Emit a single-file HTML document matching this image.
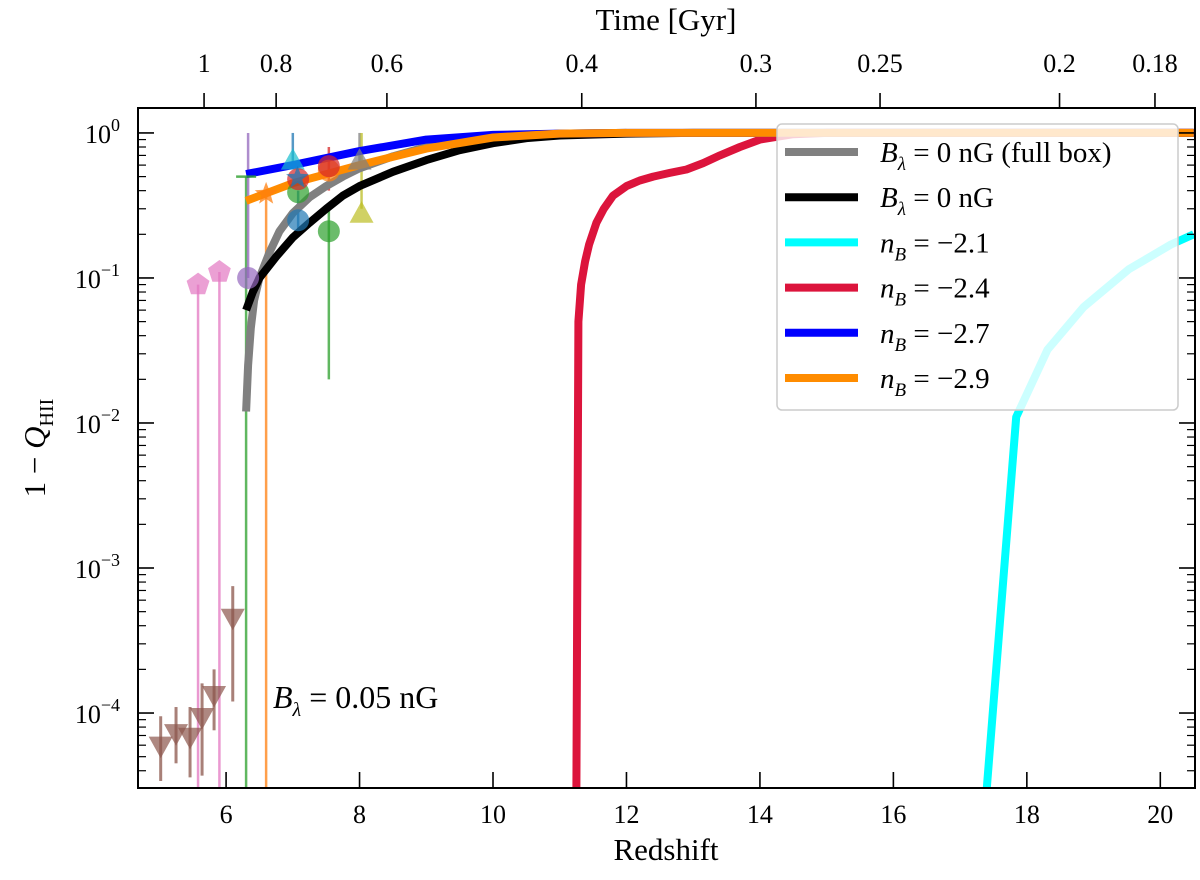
<!DOCTYPE html>
<html><head><meta charset="utf-8"><style>
html,body{margin:0;padding:0;background:#fff;width:1200px;height:880px;overflow:hidden}
svg{display:block;font-family:"Liberation Serif","DejaVu Serif",serif}
</style></head><body>
<svg id="chart" width="1200" height="880" viewBox="0 0 1200 880" xmlns="http://www.w3.org/2000/svg" overflow="hidden">
<g id="marks"></g>
<g id="axes"></g>
<g id="legend"></g>
</svg>
<script>
const xTicks=[6,8,10,12,14,16,18,20];
const yTicks=[0,-1,-2,-3,-4];
const timeLabels=["1","0.8","0.6","0.4","0.3","0.25","0.2","0.18"];
const timeTickZ=[5.67,6.75,8.41,11.33,13.94,15.80,18.49,19.92];

const zBlue=[6.3,7,8,9,10,11,12,20.5];
const vBlue=[0.52,0.6,0.75,0.9,0.97,0.99,1,1];
const zOrange=[6.3,7,8,9,10,11,12,20.5];
const vOrange=[0.34,0.45,0.6,0.78,0.93,0.99,1,1];
const zBlack=[6.3,6.4,6.5,6.75,7,7.25,7.5,7.75,8,8.5,9,9.5,10,10.5,11,12,13,20.5];
const vBlack=[0.06,0.08,0.1,0.14,0.19,0.24,0.3,0.37,0.43,0.54,0.65,0.76,0.85,0.92,0.96,0.99,1,1];
const zGray=[6.3,6.33,6.37,6.42,6.5,6.65,6.8,7,7.25,7.5,7.75,8,8.5,9,10,11,12];
const vGray=[0.012,0.025,0.045,0.07,0.1,0.15,0.21,0.28,0.36,0.43,0.5,0.57,0.69,0.8,0.93,0.99,1];
const zRed=[11.25,11.28,11.32,11.38,11.44,11.55,11.66,11.8,12,12.2,12.4,12.65,12.9,13.15,13.4,13.7,14,14.5,15,20.5];
const vRed=[3e-5,0.05,0.09,0.13,0.17,0.24,0.3,0.37,0.43,0.47,0.5,0.53,0.56,0.62,0.7,0.8,0.9,0.98,1,1];
const zCyan=[17.4,17.84,18.31,18.85,19.53,20.16,20.5];
const vCyan=[3e-5,0.011,0.032,0.063,0.115,0.17,0.2];

const zBrown=[5.02,5.25,5.46,5.64,5.82,6.1];
const vBrown=[5.9e-5,7.2e-5,6.8e-5,9.3e-5,1.32e-4,4.5e-4];
const loBrown=[3.4e-5,4.5e-5,3.6e-5,3.7e-5,7.6e-5,1.2e-4];
const hiBrown=[9.5e-5,1.1e-4,1.1e-4,1.6e-4,2e-4,7.5e-4];

const xmin=4.68,xmax=20.52,ymin=-4.517,ymax=0.172;
const VMIN=Math.pow(10,ymin);
const L=138,R=1195,T=108,B=788;
const X=z=>L+(z-xmin)/(xmax-xmin)*(R-L);
const Y=v=>Math.min(B,B-(Math.log10(v)-ymin)/(ymax-ymin)*(B-T));
const NS="http://www.w3.org/2000/svg";
function mk(tag,attrs,parent){const e=document.createElementNS(NS,tag);for(const k in attrs)e.setAttribute(k,attrs[k]);parent.appendChild(e);return e;}
const marks=document.getElementById('marks');
const axes=document.getElementById('axes');
const leg=document.getElementById('legend');

const defs=mk('defs',{},marks);
const cp=mk('clipPath',{id:'clip'},defs);
mk('rect',{x:L,y:T,width:R-L,height:B-T},cp);
const pg=mk('g',{'clip-path':'url(#clip)'},marks);

function curve(zs,vs,color,name){
  const d=zs.map((z,i)=>(i?'L':'M')+X(z).toFixed(1)+','+Y(vs[i]).toFixed(1)).join(' ');
  const p=mk('path',{d:d,fill:'none',stroke:color,'stroke-width':8,'stroke-linejoin':'round','stroke-linecap':'butt'},pg);
  
  
}
function vline(z,v1,v2,color,name,w){
  const l=mk('line',{x1:X(z),x2:X(z),y1:Y(v1),y2:Y(v2),stroke:color,'stroke-width':w||2.5,opacity:0.75},pg);
  
  
}
vline(5.58,0.09,VMIN,'#e377c2','pink-limit-1');
vline(5.9,0.11,VMIN,'#e377c2','pink-limit-2');
vline(6.3,0.5,VMIN,'#2ca02c','green-limit-line');
vline(6.6,0.38,VMIN,'#ff7f0e','orange-limit-line');
vline(6.33,1,0.1,'#9467bd','purple-line');
vline(7.0,1,0.6,'#1f77b4','blue-line');
vline(7.08,0.4,0.22,'#1f77b4','blue-err');
vline(7.54,0.8,0.4,'#d62728','red-err');
vline(7.54,0.3,0.02,'#2ca02c','green-err');
vline(8.0,1,0.6,'#7f7f7f','gray-line');
vline(8.03,1,0.3,'#bcbd22','olive-line');
for(let i=0;i<zBrown.length;i++) vline(zBrown[i],loBrown[i],hiBrown[i],'#8c564b','brown-err-'+i,3);

curve(zGray,vGray,'#808080','curve-full-box');
curve(zBlack,vBlack,'#000000','curve-b0');
curve(zRed,vRed,'#dc143c','curve-nb-2.4');
curve(zCyan,vCyan,'#00ffff','curve-nb-2.1');
curve(zBlue,vBlue,'#0000ff','curve-nb-2.7');
curve(zOrange,vOrange,'#ff8c00','curve-nb-2.9');

function circ(z,v,c,name){const e=mk('circle',{cx:X(z),cy:Y(v),r:11,fill:c,opacity:0.7},pg);}
function tri(z,v,c,name,down){const x=X(z),y=Y(v),s=12;const pts=down?`${x-s},${y-s*0.8} ${x+s},${y-s*0.8} ${x},${y+s}`:`${x-s},${y+s*0.8} ${x+s},${y+s*0.8} ${x},${y-s}`;const e=mk('polygon',{points:pts,fill:c,opacity:0.7},pg);}
function pent(z,v,c,name){const x=X(z),y=Y(v),r=12;let p=[];for(let k=0;k<5;k++){const a=-Math.PI/2+k*2*Math.PI/5;p.push((x+r*Math.cos(a)).toFixed(1)+','+(y+r*Math.sin(a)).toFixed(1));}const e=mk('polygon',{points:p.join(' '),fill:c,opacity:0.7},pg);}
function star(z,v,c,name){const x=X(z),y=Y(v);let p=[];for(let k=0;k<10;k++){const r=k%2?5:12;const a=-Math.PI/2+k*Math.PI/5;p.push((x+r*Math.cos(a)).toFixed(1)+','+(y+r*Math.sin(a)).toFixed(1));}const e=mk('polygon',{points:p.join(' '),fill:c,opacity:0.75},pg);}

for(let i=0;i<zBrown.length;i++) tri(zBrown[i],vBrown[i],'#8c564b','brown-triangle-'+i,true);
pent(5.58,0.09,'#e377c2','pink-pentagon-1');
pent(5.9,0.11,'#e377c2','pink-pentagon-2');
circ(6.33,0.1,'#9467bd','purple-circle');
mk('path',{d:`M${X(6.3)-10},${Y(0.5)} h20`,stroke:'#2ca02c','stroke-width':2.5,opacity:0.8},pg);
star(6.6,0.38,'#ff7f0e','orange-star');
tri(7.0,0.65,'#17becf','cyan-triangle',false);
circ(7.08,0.25,'#1f77b4','blue-circle');
circ(7.08,0.39,'#2ca02c','green-circle-1');
circ(7.08,0.48,'#d62728','red-circle-1');
star(7.07,0.49,'#1f77b4','blue-star');
circ(7.54,0.55,'#ff7f0e','orange-circle');
circ(7.54,0.59,'#d62728','red-circle-2');
circ(7.54,0.21,'#2ca02c','green-circle-2');
tri(8.0,0.65,'#7f7f7f','gray-triangle',false);
tri(8.03,0.28,'#bcbd22','olive-triangle',false);

const ann=mk('text',{x:273,y:708,'font-size':32},marks);


ann.innerHTML='<tspan font-style="italic">B</tspan><tspan font-style="italic" font-size="20" dy="8">λ</tspan><tspan dy="-8"> = 0.05 nG</tspan>';

mk('rect',{x:L,y:T,width:R-L,height:B-T,fill:'none',stroke:'#000','stroke-width':2},axes);
xTicks.forEach(t=>{const x=X(t);mk('line',{x1:x,x2:x,y1:B,y2:B-16,stroke:'#000','stroke-width':1.6},axes);
 const tx=mk('text',{x:x,y:823,'font-size':26,'text-anchor':'middle'},axes);tx.textContent=t;
 });
yTicks.forEach(e=>{const y=Y(Math.pow(10,e));[[L,L+16],[R,R-16]].forEach(s=>mk('line',{x1:s[0],x2:s[1],y1:y,y2:y,stroke:'#000','stroke-width':1.6},axes));
 const tx=mk('text',{x:120,y:y+10,'font-size':26,'text-anchor':'end'},axes);
 tx.innerHTML='10<tspan font-size="18" dy="-12">'+(e===0?'0':'\u2212'+(-e))+'</tspan>';
 
 for(let m=2;m<=9;m++){const v=Math.pow(10,e-1)*m;const yy=Y(v);if(yy<B&&yy>=T){[[L,L+8],[R,R-8]].forEach(s=>mk('line',{x1:s[0],x2:s[1],y1:yy,y2:yy,stroke:'#000','stroke-width':1.2},axes));}}
});
for(let m=2;m<=9;m++){const yy=Y(m);if(yy>=T)[[L,L+8],[R,R-8]].forEach(s=>mk('line',{x1:s[0],x2:s[1],y1:yy,y2:yy,stroke:'#000','stroke-width':1.2},axes));}
timeTickZ.forEach((z,i)=>{const x=X(z);mk('line',{x1:x,x2:x,y1:T,y2:T-15,stroke:'#000','stroke-width':1.6},axes);
 const tx=mk('text',{x:x,y:72,'font-size':26,'text-anchor':'middle'},axes);tx.textContent=timeLabels[i];
 });
const xt=mk('text',{x:666,y:860,'font-size':31,'text-anchor':'middle'},axes);xt.textContent='Redshift';

const tt=mk('text',{x:666,y:30,'font-size':31,'text-anchor':'middle'},axes);tt.textContent='Time [Gyr]';

const yt=mk('text',{x:0,y:0,'font-size':31,'text-anchor':'middle',transform:'translate(45,448) rotate(-90)'},axes);
yt.innerHTML='1 \u2212 <tspan font-style="italic">Q</tspan><tspan font-size="20" dy="8">HII</tspan>';


mk('rect',{x:777,y:124,width:401,height:286,rx:5,fill:'rgba(255,255,255,0.8)',stroke:'#ccc','stroke-width':1.5},leg);
const legColors=['#808080','#000000','#00ffff','#dc143c','#0000ff','#ff8c00'];
const legLabels=[
 '<tspan font-style="italic">B</tspan><tspan font-style="italic" font-size="19" dy="8">λ</tspan><tspan dy="-8"> = 0 nG (full box)</tspan>',
 '<tspan font-style="italic">B</tspan><tspan font-style="italic" font-size="19" dy="8">λ</tspan><tspan dy="-8"> = 0 nG</tspan>',
 '<tspan font-style="italic">n</tspan><tspan font-style="italic" font-size="19" dy="8">B</tspan><tspan dy="-8"> = \u22122.1</tspan>',
 '<tspan font-style="italic">n</tspan><tspan font-style="italic" font-size="19" dy="8">B</tspan><tspan dy="-8"> = \u22122.4</tspan>',
 '<tspan font-style="italic">n</tspan><tspan font-style="italic" font-size="19" dy="8">B</tspan><tspan dy="-8"> = \u22122.7</tspan>',
 '<tspan font-style="italic">n</tspan><tspan font-style="italic" font-size="19" dy="8">B</tspan><tspan dy="-8"> = \u22122.9</tspan>'];
legLabels.forEach((lab,i)=>{const y=152+i*45.2;
 const h=mk('line',{x1:785,x2:858,y1:y,y2:y,stroke:legColors[i],'stroke-width':8},leg);
 
 const t=mk('text',{x:880,y:y+10,'font-size':29},leg);t.innerHTML=lab;
 });
</script>
</body></html>
